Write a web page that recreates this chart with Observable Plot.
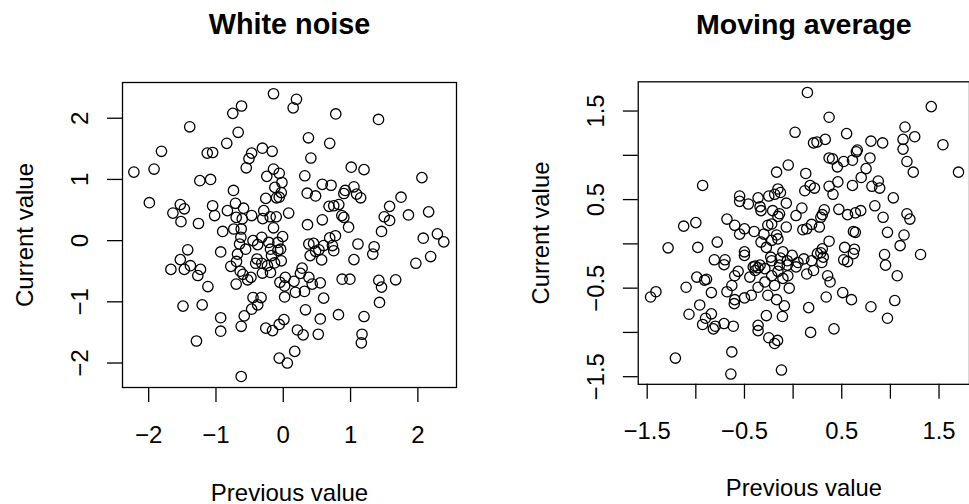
<!DOCTYPE html>
<html>
<head>
<meta charset="utf-8">
<script src="https://cdn.jsdelivr.net/npm/d3@7"></script>
<script src="https://cdn.jsdelivr.net/npm/@observablehq/plot@0.6"></script>
<style>
  html, body { margin: 0; padding: 0; background: #fff; overflow: hidden; }
  #chart { position: relative; width: 969px; height: 504px; overflow: hidden; background: #fff; }
  #chart > div { position: absolute; top: 0; }
</style>
</head>
<body>
<div id="chart"><div id="left"></div><div id="right"></div></div>
<script>
// Lag plots: each point is (value at t-1, value at t)

// White noise series
const wnPrev = [
  -0.145, -0.62, -0.75, -1.39, -0.67, -0.84, -1.81, -1.13, -1.05, -0.31,
  -0.165, -0.47, -0.51, -0.55, -2.22, -1.92, -0.145, -0.06, -0.245, -0.02,
  -0.125, -0.03, -0.06, -0.10, -0.26, -1.24, -1.08, -0.74, -1.99, -1.53,
  -1.47, -1.64, -1.52, -1.26, -1.05, -1.02, -0.71, -0.83, -0.59, -0.70,
  -0.61, -0.47, -0.29, -0.305, -0.195, -0.105, 0.08, -0.145, -0.90, -0.735,
  -0.625,
  -0.63, -0.65, -0.45, -0.32, -0.38, -0.215, -0.08, -0.01, -0.04, -0.19,
  -0.56, -0.68, -1.42, -1.53, -1.67, -1.47, -1.38, -1.23, -1.27, -1.12,
  -0.93, -0.78, -0.695, -0.64, -0.70, -0.53, -0.48, -0.60, -0.41, -0.39,
  -0.32, -0.31, -0.19, -0.235, -0.13, -0.03, -0.175, -0.08, -0.05, 0.03,
  0.02, 0.02, -0.45, -0.33, -0.38, -0.47, -0.58, -0.625, -1.49, -1.205,
  -0.93, -0.93, -1.29, -0.625, -0.26, -0.16, -0.06, 0.01, -0.06, 0.06,
  0.196, 0.147, 0.78, 1.415, 0.374, 0.69, 0.41, 1.01, 1.20, 2.06,
  0.32, 0.58, 0.71, 0.355, 0.48, 0.92, 1.05, 1.09, 1.15, 0.90,
  1.75, 1.58, 1.86, 2.16, 1.50, 1.58, 0.68, 0.75, 0.825, 0.87,
  0.90, 0.97, 0.58, 0.36, 1.46, 2.08, 2.29, 2.385,
  1.11, 1.35, 1.33, 1.05, 0.38, 0.45, 0.69, 0.775, 0.73, 0.75,
  0.60, 0.53, 0.48, 0.57, 0.40, 0.28, 0.16, 0.38, 0.43, 0.55,
  0.315, 0.18, 0.60, 0.875, 0.99, 1.42, 1.46, 1.67, 1.43, 0.33,
  0.55, 0.82, 1.20, 0.21, 0.295, 0.52, 1.17, 1.16, 0.17, 2.19,
  1.97, 0.255
];
const wnCurr = [
  2.40, 2.20, 2.08, 1.86, 1.77, 1.59, 1.46, 1.43, 1.44, 1.51,
  1.46, 1.43, 1.34, 1.19, 1.12, 1.17, 1.17, 1.10, 1.05, 0.95,
  0.87, 0.785, 0.71, 0.70, 0.69, 0.98, 1.00, 0.82, 0.62, 0.59,
  0.52, 0.45, 0.31, 0.28, 0.57, 0.41, 0.61, 0.49, 0.53, 0.38,
  0.355, 0.41, 0.49, 0.36, 0.39, 0.39, 0.45, 0.21, 0.15, 0.19,
  0.19,
  0.055, -0.055, 0.0, 0.055, -0.065, -0.03, -0.03, 0.065, -0.14, -0.14,
  -0.14, -0.22, -0.15, -0.31, -0.47, -0.47, -0.41, -0.47, -0.57, -0.75,
  -0.185, -0.42, -0.34, -0.50, -0.71, -0.64, -0.60, -0.55, -0.37, -0.30,
  -0.37, -0.53, -0.52, -0.41, -0.365, -0.33, -0.245, -0.16, -0.68, -0.60,
  -0.74, -0.92, -0.93, -0.93, -1.05, -1.12, -1.23, -1.40, -1.07, -1.05,
  -1.26, -1.48, -1.64, -2.22, -1.43, -1.47, -1.37, -1.29, -1.92, -2.0,
  2.31, 2.17, 2.07, 1.98, 1.68, 1.59, 1.35, 1.20, 1.16, 1.03,
  1.06, 0.92, 0.905, 0.775, 0.73, 0.82, 0.88, 0.76, 0.70, 0.77,
  0.71, 0.56, 0.42, 0.47, 0.39, 0.33, 0.56, 0.57, 0.59, 0.41,
  0.38, 0.22, 0.34, 0.26, 0.15, 0.04, 0.11, -0.02,
  -0.055, -0.10, -0.22, -0.31, -0.055, -0.045, 0.045, 0.08, -0.08, -0.165,
  -0.08, -0.15, -0.175, -0.315, -0.245, -0.45, -0.665, -0.60, -0.71, -0.69,
  -0.83, -0.845, -0.94, -0.63, -0.63, -0.65, -0.76, -0.64, -1.01, -1.13,
  -1.28, -1.21, -1.24, -1.46, -1.54, -1.53, -1.53, -1.67, -1.81, -0.26,
  -0.37, -0.535
];

// Moving average series
const maPrev = [
  -0.05, -0.17, -0.93, -0.156, -0.13, -0.19, -0.25, -0.36, -0.55, -0.55,
  -0.46, -0.34, -0.33, -0.21, -0.14, -0.156, -0.07, -0.68, -0.60, -1.125,
  -1.00, -0.50, -0.40, -0.22, -0.26, -0.07, -0.55, -0.30, -0.17,
  0.147, 1.42, 0.37, 0.02, 0.55, 1.15, 1.13, 1.25, 1.13, 1.54,
  1.17, 1.235, 1.70, 0.21, 0.245, 0.33, 0.80, 0.92, 0.37, 0.405,
  0.52, 0.455, 0.61, 0.65, 0.66, 0.79, 0.75, 0.70, 0.61, 0.81,
  0.875, 0.89, 1.03, 0.84, 0.925, 1.17, 1.20, 0.97, 1.14, 0.13,
  0.175, 0.22, 0.12, 0.37, 0.46, 0.41, 0.09, 0.03, 0.47, 0.56,
  0.64, 0.695, 0.32, 0.30, 0.285, 0.19, 0.27, 0.10, 0.14, 0.62,
  0.64,
  -1.285, -0.98, -0.78, -0.50, -0.50, -0.81, -0.70, -0.71, -0.565, -0.60,
  -0.41, -0.39, -0.36, -0.39, -0.34, -0.29, -0.445, -0.33, -0.275, -0.22,
  -0.156, -0.23, -0.22, -0.13, -0.105, -0.14, -0.06, -0.156, -0.22, -0.29,
  -0.36, -0.43, -0.50, -0.26, -0.17, -0.09, -0.11, -0.275, -0.36, -0.36,
  -0.25, -0.16, -0.19, -0.12, -0.63, -0.64, -1.21, -1.465, -1.41, -1.10,
  -0.99, -0.91, -0.89, -0.84, -0.68, -0.63, -0.60, -0.605, -0.96, -1.07,
  -0.84, -0.90, -0.93, -0.82, -0.80, -0.71, -0.615, -0.105, -0.19,
  1.10, 1.31, 0.94, 0.95, 1.07, 0.37, 0.30, 0.285, 0.31, 0.295,
  0.25, 0.19, 0.21, 0.14, 0.11, 0.05, 0.03, -0.01, -0.06, -0.054,
  -0.04, 0.355, 0.38, 0.34, 0.16, 0.18, 0.42, 0.51, 0.60, 0.80,
  1.045, 0.97, 0.53, 0.63, 0.62, 0.52, 0.56
];
const maCurr = [
  0.89, 0.81, 0.66, 0.62, 0.58, 0.56, 0.54, 0.52, 0.54, 0.48,
  0.45, 0.42, 0.375, 0.375, 0.34, 0.31, 0.46, 0.28, 0.21, 0.20,
  0.24, 0.17, 0.14, 0.225, 0.21, 0.19, 0.11, 0.11, 0.10,
  1.71, 1.55, 1.43, 1.26, 1.245, 1.32, 1.18, 1.21, 1.07, 1.12,
  0.93, 0.81, 0.81, 1.14, 1.15, 1.18, 1.16, 1.14, 0.97, 0.96,
  0.93, 0.87, 0.945, 1.04, 1.06, 0.97, 0.85, 0.75, 0.66, 0.65,
  0.71, 0.63, 0.52, 0.43, 0.30, 0.34, 0.28, 0.13, 0.10, 0.795,
  0.66, 0.63, 0.60, 0.65, 0.70, 0.56, 0.405, 0.32, 0.39, 0.33,
  0.35, 0.375, 0.385, 0.33, 0.30, 0.22, 0.19, 0.16, 0.17, 0.14,
  0.13,
  -0.045, -0.04, 0.02, -0.09, -0.13, -0.18, -0.18, -0.235, -0.31, -0.36,
  -0.26, -0.25, -0.27, -0.30, -0.24, -0.28, -0.375, 0.02, -0.04, 0.04,
  0.056, -0.15, -0.19, -0.16, -0.09, -0.24, -0.19, -0.31, -0.36, -0.43,
  -0.49, -0.58, -0.61, -0.58, -0.63, -0.70, -0.82, -0.81, -0.92, -0.98,
  -1.06, -1.09, -1.125, -1.425, -1.22, -1.47, -1.29, -0.60, -0.54, -0.49,
  -0.375, -0.41, -0.40, -0.55, -0.54, -0.47, -0.63, -0.675, -0.69, -0.795,
  -0.79, -0.84, -0.91, -0.96, -0.93, -0.90, -0.93, -0.39, -0.47,
  -0.02, -0.12, -0.12, -0.24, -0.36, 0.03, -0.056, -0.10, -0.15, -0.21,
  -0.11, -0.19, -0.30, -0.34, -0.17, -0.21, -0.26, -0.13, -0.24, -0.36,
  -0.50, -0.36, -0.43, -0.60, -0.72, -1.00, -0.96, -0.55, -0.63, -0.71,
  -0.64, -0.84, -0.04, -0.06, -0.11, -0.18, -0.20
];

// Axis ticks and their labels (an empty label leaves the tick unlabeled)
const wnTicks = [-2, -1, 0, 1, 2];
const wnTickLabels = ["\u22122", "\u22121", "0", "1", "2"];
const maTicks = [-1.5, -1, -0.5, 0, 0.5, 1, 1.5];
const maTickLabels = ["\u22121.5", "", "\u22120.5", "", "0.5", "", "1.5"];

const FONT = "'Liberation Sans', Arial, Helvetica, sans-serif";

function lagPanel({title, prev, curr, xDomain, yDomain, ticks, tickLabels, width, marginLeft, marginRight}) {
  const points = prev.map((p, i) => ({prev: p, curr: curr[i]}));
  const labelOf = new Map(ticks.map((t, i) => [t, tickLabels[i]]));
  const labelled = ticks.filter((t) => labelOf.get(t) !== "");
  return Plot.plot({
    width,
    height: 504,
    marginLeft,
    marginRight,
    marginTop: 82,
    marginBottom: 117,
    x: {domain: xDomain},
    y: {domain: yDomain},
    style: {fontFamily: FONT, fontSize: "24px", color: "#000", background: "transparent", overflow: "visible"},
    marks: [
      Plot.frame({stroke: "#000", strokeWidth: 1.3}),
      Plot.axisX({ticks, tickSize: 15, tickPadding: 23, strokeWidth: 1.3, tickFormat: (d) => labelOf.get(d), label: null, fontSize: 24}),
      Plot.axisY({ticks, tickSize: 15, strokeWidth: 1.3, tickFormat: () => "", label: null}),
      Plot.text(labelled, {y: (d) => d, text: (d) => labelOf.get(d), frameAnchor: "left", rotate: -90, dx: -34.5, lineAnchor: "bottom", textAnchor: "middle", fontSize: 24}),
      Plot.dot(points, {x: "prev", y: "curr", r: 5.2, stroke: "#000", strokeWidth: 1.3, fill: "none"}),
      Plot.text([title], {text: (d) => d, frameAnchor: "top", dy: -48.7, lineAnchor: "bottom", fontWeight: "bold", fontSize: 28.8}),
      Plot.text(["Previous value"], {text: (d) => d, frameAnchor: "bottom", dy: 113, lineAnchor: "bottom", fontSize: 24}),
      Plot.text(["Current value"], {text: (d) => d, frameAnchor: "left", dx: -90, rotate: -90, lineAnchor: "bottom", textAnchor: "middle", fontSize: 24})
    ]
  });
}

const left = lagPanel({
  title: "White noise", prev: wnPrev, curr: wnCurr,
  xDomain: [-2.389, 2.574], yDomain: [-2.40, 2.584],
  ticks: wnTicks, tickLabels: wnTickLabels,
  width: 485, marginLeft: 122, marginRight: 29
});
const right = lagPanel({
  title: "Moving average", prev: maPrev, curr: maCurr,
  xDomain: [-1.592, 1.813], yDomain: [-1.586, 1.830],
  ticks: maTicks, tickLabels: maTickLabels,
  width: 488, marginLeft: 154, marginRight: 0
});

const l = document.getElementById("left");
const r = document.getElementById("right");
l.style.left = "0px";
r.style.left = "485px";
l.appendChild(left);
r.appendChild(right);
</script>
</body>
</html>
